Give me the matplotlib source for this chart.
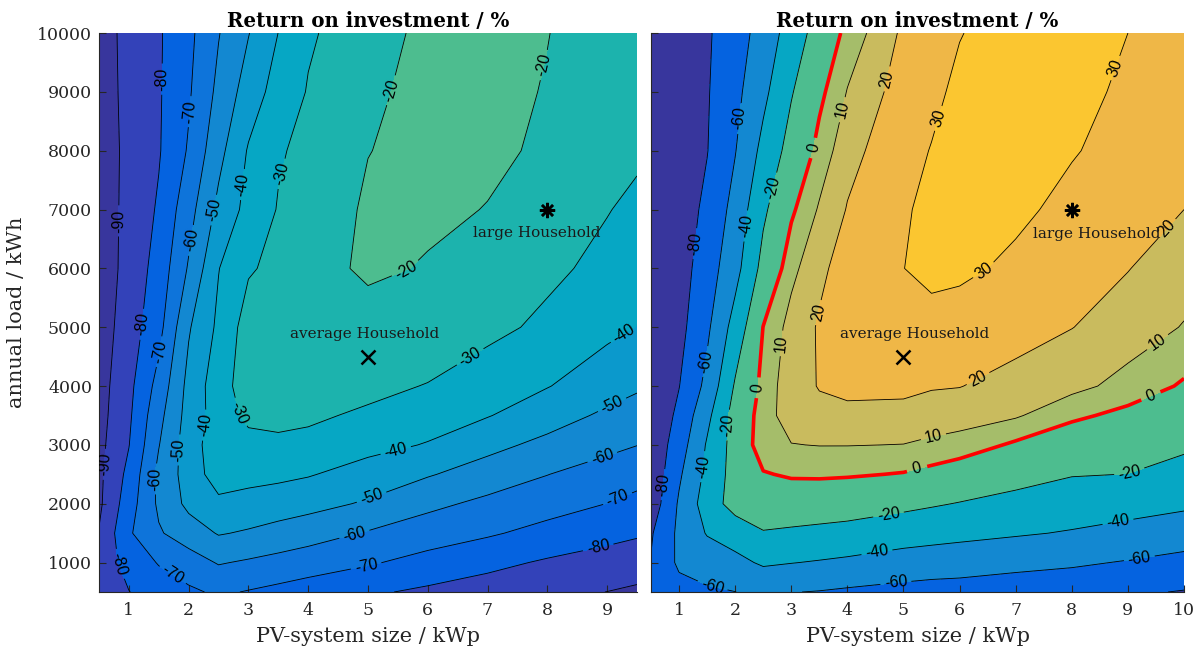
import matplotlib
matplotlib.use("Agg")
import matplotlib.pyplot as plt
import numpy as np

# ---------------------------------------------------------------------------
# Grid: PV-system size (kWp) and annual household load (kWh)
# ---------------------------------------------------------------------------
pv_size_a = [0.5, 1, 1.5, 2, 2.5, 3, 3.5, 4, 5, 6, 7, 8, 9, 9.5]
pv_size_b = [0.5, 1, 1.5, 2, 2.5, 3, 3.5, 4, 5, 5.5, 6, 7, 8, 9, 10]
annual_load = [500, 1000, 1500, 2000, 2500, 3000, 3500, 4000,
               5000, 6000, 7000, 8000, 9000, 10000]

# Return on investment (%) - scenario A (one row per annual load value)
roi_a = [
    [-84.3, -80.2, -75.9, -71.7, -68.5, -70.6, -72.6, -74.6, -78.6, -81.8, -84.6, -87.3, -90.1, -91.5],
    [-85.5, -76.8, -69.3, -64.5, -59.3, -61.2, -63.2, -65.3, -69.0, -73.3, -77.4, -81.2, -83.8, -85.6],
    [-89.5, -71.3, -61.0, -55.1, -49.3, -51.1, -53.4, -55.7, -60.8, -65.3, -68.8, -73.1, -77.2, -78.8],
    [-91.9, -74.5, -58.3, -47.5, -42.3, -43.4, -45.1, -46.8, -51.2, -57.6, -62.3, -66.1, -70.1, -72.1],
    [-92.2, -77.3, -57.5, -45.8, -35.0, -37.0, -37.8, -39.3, -44.1, -49.2, -54.5, -59.8, -64.8, -67.3],
    [-92.8, -80.3, -60.4, -44.9, -34.0, -33.4, -31.1, -31.6, -37.0, -40.6, -47.2, -52.6, -57.2, -59.8],
    [-93.6, -81.7, -63.0, -46.1, -35.5, -27.6, -28.5, -29.0, -31.0, -35.4, -39.5, -45.6, -51.8, -54.8],
    [-94.1, -82.7, -66.5, -47.0, -34.4, -25.0, -26.0, -26.0, -28.3, -30.3, -35.2, -39.6, -45.5, -48.5],
    [-95.2, -85.0, -73.3, -51.0, -38.0, -25.5, -26.0, -25.5, -24.6, -25.3, -27.5, -32.0, -37.7, -40.2],
    [-95.8, -86.7, -76.1, -59.0, -40.3, -31.0, -27.6, -24.4, -18.1, -20.8, -24.8, -28.0, -32.5, -34.5],
    [-95.3, -87.3, -78.8, -63.8, -47.5, -36.8, -29.4, -25.9, -18.7, -18.1, -20.3, -25.1, -29.6, -32.0],
    [-94.8, -87.8, -80.8, -69.0, -53.1, -39.1, -31.0, -27.5, -20.2, -17.5, -18.2, -21.4, -26.0, -28.5],
    [-94.2, -87.6, -81.0, -71.2, -57.6, -45.4, -35.9, -29.4, -22.0, -16.8, -17.4, -20.5, -25.0, -27.0],
    [-93.8, -87.5, -81.1, -72.5, -60.5, -50.4, -39.9, -31.2, -24.4, -17.5, -17.0, -19.8, -24.0, -26.0],
]

# Return on investment (%) - scenario B
roi_b = [
    [-72.0, -67.0, -62.5, -60.2, -55.0, -59.5, -60.8, -62.8, -66.0, -67.6, -68.0, -70.0, -72.5, -77.5, -81.0],
    [-79.0, -56.5, -51.6, -44.8, -37.7, -39.5, -41.4, -43.5, -48.3, -49.8, -51.2, -54.9, -57.4, -61.3, -65.8],
    [-82.0, -55.9, -38.7, -32.0, -21.0, -22.7, -24.3, -26.0, -31.2, -33.2, -35.0, -38.1, -41.4, -46.0, -50.4],
    [-92.0, -57.6, -30.5, -12.0, -10.8, -9.7, -10.4, -11.4, -15.5, -18.2, -20.8, -25.6, -30.0, -32.5, -36.6],
    [-95.0, -62.9, -35.1, -12.0, -1.0, 1.6, 1.9, 1.3, -0.7, -3.5, -6.9, -13.5, -19.1, -20.2, -26.4],
    [-95.0, -69.7, -38.0, -12.3, 7.5, 9.7, 10.3, 10.3, 9.8, 8.0, 6.0, -1.8, -8.6, -11.7, -17.0],
    [-97.0, -75.4, -45.0, -12.0, 6.0, 14.5, 17.5, 17.5, 16.8, 15.3, 14.5, 11.2, 2.4, -3.3, -9.2],
    [-98.0, -80.5, -54.7, -17.9, 3.9, 16.0, 20.5, 22.5, 22.5, 20.8, 20.3, 16.1, 13.0, 6.5, -1.4],
    [-100.0, -86.0, -63.6, -32.1, 0.3, 14.0, 21.0, 24.0, 26.0, 26.6, 26.5, 24.5, 20.2, 15.5, 9.4],
    [-100.0, -89.0, -69.5, -46.8, -13.8, 7.0, 18.0, 24.0, 29.9, 32.5, 31.5, 28.5, 24.5, 20.3, 14.9],
    [-100.0, -90.0, -75.8, -53.3, -23.4, -2.0, 11.2, 20.6, 29.5, 31.1, 32.5, 31.5, 28.0, 23.0, 20.0],
    [-100.0, -91.0, -80.6, -60.8, -34.5, -12.8, 3.8, 16.5, 27.5, 30.3, 33.0, 34.0, 30.5, 27.5, 23.5],
    [-100.0, -92.0, -81.5, -65.3, -44.7, -21.4, -2.9, 10.5, 25.0, 28.3, 31.6, 34.0, 32.5, 28.5, 25.5],
    [-100.0, -92.0, -82.4, -68.8, -52.3, -31.1, -11.7, 3.7, 22.0, 26.0, 29.7, 33.5, 32.5, 30.0, 26.0],
]

levels_a = [-90, -80, -70, -60, -50, -40, -30, -20]
levels_b = [-80, -60, -40, -20, 0, 10, 20, 30]

x_ticks_a = [1, 2, 3, 4, 5, 6, 7, 8, 9]
x_ticks_b = [1, 2, 3, 4, 5, 6, 7, 8, 9, 10]
y_ticks = [1000, 2000, 3000, 4000, 5000, 6000, 7000, 8000, 9000, 10000]

average_household = (5, 4500)
large_household = (8, 7000)

# ---------------------------------------------------------------------------
# Styling
# ---------------------------------------------------------------------------
plt.rcParams["font.family"] = "DejaVu Serif"

# parula-like fill colour for the band that starts at each level
BAND_COLOUR = {
    "low": "#38369d",
    -90: "#3342b9", -80: "#0563e0", -70: "#0e74da", -60: "#1388d1",
    -50: "#0b99cc", -40: "#06a7c4", -30: "#1cb3ad", -20: "#4dbd8f",
    0: "#a5bd6a", 10: "#c9bb5e", 20: "#efb747", 30: "#fbc630",
}
TICK_COLOUR = "#262626"
LABEL_SIZE = 11.5

label_pos_a = [
    (1.59, 9216), (2.06, 8660), (2.09, 6468), (2.41, 6993), (2.90, 7425),
    (3.54, 7610), (5.38, 9030), (7.91, 9463), (0.84, 6807), (1.24, 5047),
    (1.51, 4584), (1.42, 2422), (1.77, 2916), (2.18, 3348), (2.79, 3534),
    (0.60, 2669), (0.75, 940), (1.71, 754), (5.64, 5973), (6.75, 4429),
    (5.47, 2885), (5.06, 2113), (4.77, 1495), (4.97, 940), (9.28, 4892),
    (9.08, 3688), (8.93, 2762), (9.19, 2051), (8.84, 1310),
]
label_pos_b = [
    (2.17, 8538), (2.17, 6723), (2.69, 7369), (3.93, 8692), (4.73, 9215),
    (5.66, 8538), (8.79, 9400), (1.33, 6415), (0.74, 2323), (1.49, 4415),
    (1.42, 2631), (1.86, 3338), (2.85, 4723), (3.50, 5246), (6.44, 5954),
    (9.75, 6631), (1.61, 662), (4.52, 1215), (4.73, 1831), (5.53, 3154),
    (6.34, 4108), (9.50, 4785), (9.00, 2600), (8.82, 1708), (9.19, 1154),
    (4.86, 692),
]
label_pos_zero = [(3.37, 8050), (2.34, 3980), (5.24, 2600), (9.41, 3831)]


def band_colours(levels):
    return [BAND_COLOUR["low"]] + [BAND_COLOUR[lv] for lv in levels]


def style_axes(ax, xmax, xticks, show_ylabels):
    ax.set_xlim(0.5, xmax)
    ax.set_ylim(500, 10000)
    ax.set_xticks(xticks)
    ax.set_yticks(y_ticks)
    ax.tick_params(direction="in", length=5, width=0.8, colors=TICK_COLOUR,
                   labelsize=12.5)
    ax.tick_params(axis="x", pad=7)
    ax.tick_params(axis="y", pad=5)
    for side in ("top", "right"):
        ax.spines[side].set_visible(False)
    for side in ("left", "bottom"):
        ax.spines[side].set_color(TICK_COLOUR)
        ax.spines[side].set_linewidth(0.8)
    if not show_ylabels:
        ax.set_yticklabels([])
    ax.set_xlabel("PV-system size / kWp", fontsize=15, color=TICK_COLOUR,
                  labelpad=6)
    ax.set_title("Return on investment / %", fontsize=14.3,
                 fontweight="bold", pad=4)


def households(ax, avg_text_xy, large_text_xy):
    ax.plot(*average_household, marker="x", color="k", markersize=10,
            markeredgewidth=1.8, linestyle="none", zorder=5)
    ax.plot(*large_household, marker=(8, 2, 0), color="k", markersize=11,
            markeredgewidth=1.8, linestyle="none", zorder=5)
    ax.text(*avg_text_xy, "average Household", ha="center", va="center",
            fontsize=11, color="#1a1a1a", zorder=6)
    ax.text(*large_text_xy, "large Household", ha="center", va="center",
            fontsize=11, color="#1a1a1a", zorder=6)


fig = plt.figure(figsize=(12, 6.5), dpi=100)
ax_a = fig.add_axes([0.0825, 0.0892, 0.4483, 0.86])
ax_b = fig.add_axes([0.5425, 0.0892, 0.4442, 0.86])

# --- scenario A -------------------------------------------------------------
Xa, Ya = np.meshgrid(pv_size_a, annual_load)
Za = np.array(roi_a)
style_axes(ax_a, 9.5, x_ticks_a, True)
ax_a.set_ylabel("annual load / kWh", fontsize=15, color=TICK_COLOUR,
                labelpad=8)
ax_a.contourf(Xa, Ya, Za, levels=levels_a, colors=band_colours(levels_a),
              extend="both")
cs_a = ax_a.contour(Xa, Ya, Za, levels=levels_a, colors="k",
                    linewidths=0.6, linestyles="solid")
with plt.rc_context({"font.family": "Liberation Sans"}):
    ax_a.clabel(cs_a, manual=label_pos_a, inline=True, inline_spacing=4,
                fmt="%d", fontsize=LABEL_SIZE, colors="k")
households(ax_a, (4.94, 4890), (7.83, 6604))

# --- scenario B -------------------------------------------------------------
Xb, Yb = np.meshgrid(pv_size_b, annual_load)
Zb = np.array(roi_b)
style_axes(ax_b, 10, x_ticks_b, False)
ax_b.contourf(Xb, Yb, Zb, levels=levels_b, colors=band_colours(levels_b),
              extend="both")
lines_b = [lv for lv in levels_b if lv != 0]
cs_b = ax_b.contour(Xb, Yb, Zb, levels=lines_b, colors="k",
                    linewidths=0.6, linestyles="solid")
cs_zero = ax_b.contour(Xb, Yb, Zb, levels=[0], colors="#ff0000",
                       linewidths=2.6, linestyles="solid")
with plt.rc_context({"font.family": "Liberation Sans"}):
    ax_b.clabel(cs_b, manual=label_pos_b, inline=True, inline_spacing=4,
                fmt="%d", fontsize=LABEL_SIZE, colors="k")
    ax_b.clabel(cs_zero, manual=label_pos_zero, inline=True,
                inline_spacing=6, fmt="%d", fontsize=LABEL_SIZE, colors="k")
households(ax_b, (5.19, 4890), (8.44, 6580))

fig.savefig("out.png", dpi=100)
